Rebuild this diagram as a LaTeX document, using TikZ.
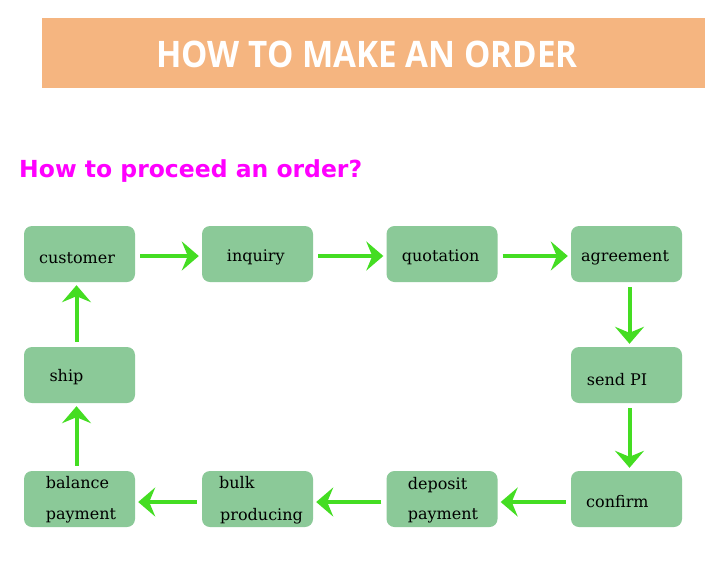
\documentclass[tikz,border=0pt]{standalone}
\usepackage{fontspec}
\setmainfont{DejaVu Serif}
\newfontfamily\titlefont{Open Sans}
\newfontfamily\subfont{DejaVu Sans}
\usetikzlibrary{arrows.meta}
\definecolor{band}{RGB}{245,181,128}
\definecolor{boxfill}{RGB}{139,201,152}
\definecolor{arrowgreen}{RGB}{68,221,34}
\definecolor{magentatext}{RGB}{255,0,255}
\tikzset{
  stepbox/.style={draw=none, fill=boxfill, rounded corners=8pt, minimum width=111pt, minimum height=56pt, inner sep=0pt},
  lbl/.style={anchor=base west, inner sep=0pt, font=\fontsize{16}{18}\selectfont, text=black},
  arr/.style={draw=arrowgreen, line width=4pt, -{Stealth[length=17pt, width=29pt, inset=6pt]}, shorten <=5pt, shorten >=3pt}
}
\begin{document}
\begin{tikzpicture}[x=1pt,y=-1pt]
\useasboundingbox (0,0) rectangle (719,581);
\fill[white] (0,0) rectangle (719,581);
% title band
\fill[band] (42,18) rectangle (705,88);
\node[anchor=base, inner sep=0pt, text=white] (title) at (367,67) {\resizebox{421pt}{26.5pt}{\titlefont\bfseries HOW TO MAKE AN ORDER}};
\node[anchor=base west, inner sep=0pt, text=magentatext] (sub) at (19,177.5) {\resizebox{343pt}{!}{\subfont\bfseries\fontsize{24}{28}\selectfont How to proceed an order?}};
% boxes
\node[stepbox] (cust) at (79.5,254) {};
\node[stepbox] (inq) at (257.5,254) {};
\node[stepbox] (quo) at (442,254) {};
\node[stepbox] (agr) at (626.5,254) {};
\node[stepbox] (ship) at (79.5,375) {};
\node[stepbox] (spi) at (626.5,375) {};
\node[stepbox] (bal) at (79.5,499) {};
\node[stepbox] (bulk) at (257.5,499) {};
\node[stepbox] (dep) at (442,499) {};
\node[stepbox] (conf) at (626.5,499) {};
% labels
\node[lbl] (tcust) at (39,263) {customer};
\node[lbl] (tinq) at (226.7,261.7) {inquiry};
\node[lbl] (tquo) at (401.7,261) {quotation};
\node[lbl] (tagr) at (581,261) {agreement};
\node[lbl] (tspi) at (586.7,385.7) {send PI};
\node[lbl] (tship) at (49.3,381.7) {ship};
\node[lbl] (tconf) at (586,507.3) {confirm};
\node[lbl] (tdep1) at (407.7,489) {deposit};
\node[lbl] (tdep2) at (407.7,519) {payment};
\node[lbl] (tbal1) at (45.7,488.3) {balance};
\node[lbl] (tbal2) at (45.7,519.3) {payment};
\node[lbl] (tbulk1) at (219,488) {bulk};
\node[lbl] (tbulk2) at (220,520) {producing};
% arrows
\draw[arr] ([yshift=-2pt]cust.east) -- ([yshift=-2pt]inq.west);
\draw[arr] ([yshift=-2pt]inq.east) -- ([yshift=-2pt]quo.west);
\draw[arr] ([yshift=-2pt]quo.east) -- ([yshift=-2pt]agr.west);
\draw[arr] ([xshift=3pt]agr.south) -- ([xshift=3pt]spi.north);
\draw[arr] ([xshift=3pt]spi.south) -- ([xshift=3pt]conf.north);
\draw[arr] ([yshift=-3pt]conf.west) -- ([yshift=-3pt]dep.east);
\draw[arr] ([yshift=-3pt]dep.west) -- ([yshift=-3pt]bulk.east);
\draw[arr] ([yshift=-3pt]bulk.west) -- ([yshift=-3pt]bal.east);
\draw[arr] ([xshift=-3pt]bal.north) -- ([xshift=-3pt]ship.south);
\draw[arr] ([xshift=-3pt]ship.north) -- ([xshift=-3pt]cust.south);
\end{tikzpicture}
\end{document}
